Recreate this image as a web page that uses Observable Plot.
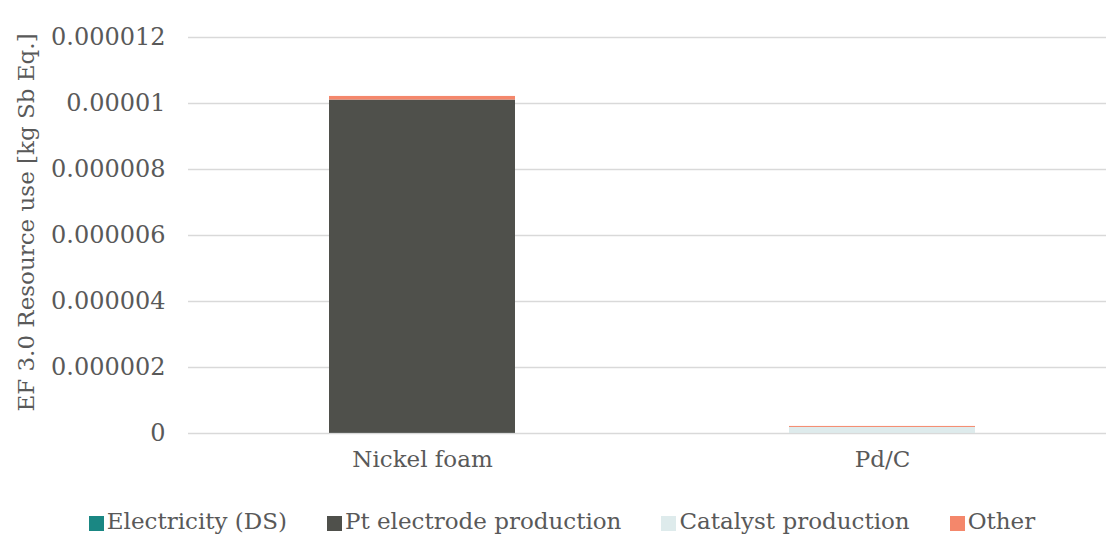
<!DOCTYPE html>
<html>
<head>
<meta charset="utf-8">
<script src="https://cdn.jsdelivr.net/npm/d3@7"></script>
<script src="https://cdn.jsdelivr.net/npm/@observablehq/plot@0.6"></script>
<style>
  html, body { margin: 0; padding: 0; background: #fff; overflow: hidden; }
  body { width: 1106px; height: 534px; font-family: "DejaVu Serif", "Liberation Serif", serif; }
  #legend { display: flex; justify-content: center; gap: 40px; margin-top: 8px; padding-left: 18px;
            font-size: 23px; line-height: 26px; color: #595959; }
  #legend .item { display: flex; align-items: center; white-space: nowrap; }
  #legend .sw { width: 15px; height: 15px; margin-right: 3px; margin-top: 5px; }
</style>
</head>
<body>
<div id="chart"></div>
<div id="legend"></div>
<script>
// Production routes compared
const routes = ["Nickel foam", "Pd/C"];
// Contributions, stacked bottom to top
const series = ["Electricity (DS)", "Pt electrode production", "Catalyst production", "Other"];
const colors = ["#1a8783", "#4f504b", "#deebec", "#f4876b"];
// EF 3.0 resource use per contribution [kg Sb eq.], one entry per route
const electricity = [0.000000004, 0.000000004];
const ptElectrode = [0.0000101, 0];
const catalyst = [0, 0.00000018];
const other = [0.00000011, 0.00000003];
const yTicks = [0, 0.000002, 0.000004, 0.000006, 0.000008, 0.00001, 0.000012];

const columns = [electricity, ptElectrode, catalyst, other];
const rows = [];
series.forEach((s, i) => routes.forEach((r, j) => rows.push({route: r, series: s, value: columns[i][j]})));

const fmt = d => d === 0 ? "0" : d.toFixed(6).replace(/0+$/, "");

const chart = Plot.plot({
  width: 1106,
  height: 500,
  marginTop: 37,
  marginBottom: 67,
  marginLeft: 188,
  marginRight: 0,
  style: {fontFamily: "'DejaVu Serif', 'Liberation Serif', serif", fontSize: "22px", color: "#595959", background: "#fff"},
  // band range runs slightly past the right edge so the plot's right gap is narrower than the left
  x: {domain: routes, range: [190, 1114], paddingInner: 0.595, paddingOuter: 0.3, label: null},
  y: {domain: [0, 0.000012], label: null},
  color: {domain: series, range: colors},
  marks: [
    Plot.gridY(yTicks, {stroke: "#d9d9d9", strokeOpacity: 1, strokeWidth: 1.5}),
    Plot.barY(rows, {x: "route", y: "value", fill: "series"}),
    Plot.axisY(yTicks, {tickSize: 0, tickPadding: 23, tickFormat: fmt, label: null, fill: "#595959", fontSize: 24}),
    Plot.axisX({tickSize: 0, tickPadding: 17, label: null, fill: "#595959", fontSize: 23}),
    Plot.text(["EF 3.0 Resource use [kg Sb Eq.]"], {
      frameAnchor: "left", textAnchor: "middle", dx: -162, dy: -13, rotate: -90, fontSize: 23, fill: "#595959"
    })
  ]
});
document.getElementById("chart").appendChild(chart);

const legend = document.getElementById("legend");
series.forEach((s, i) => {
  const item = document.createElement("div");
  item.className = "item";
  const sw = document.createElement("span");
  sw.className = "sw";
  sw.style.background = colors[i];
  const label = document.createElement("span");
  label.textContent = s;
  item.appendChild(sw);
  item.appendChild(label);
  legend.appendChild(item);
});
</script>
</body>
</html>
